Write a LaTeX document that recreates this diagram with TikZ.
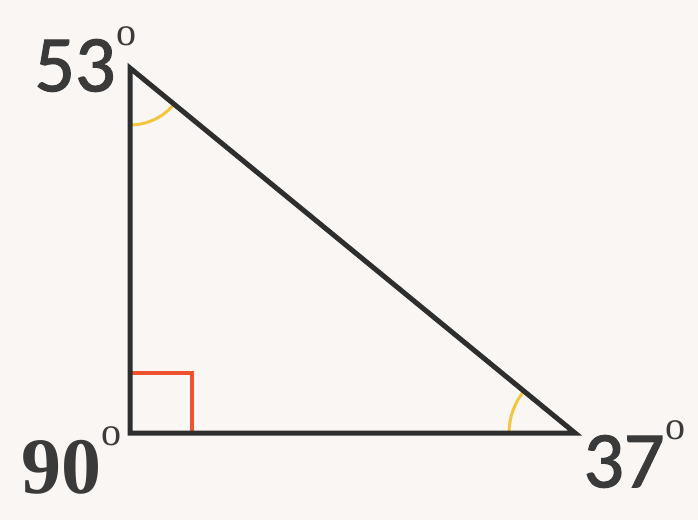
\documentclass[tikz,border=0pt]{standalone}
\usepackage{fontspec}
\newfontfamily\digitfont[FakeBold=1.5]{Carlito}
\newfontfamily\seriffont{Liberation Serif}
\usetikzlibrary{angles,positioning}
\definecolor{paper}{HTML}{F9F6F4}
\definecolor{ink}{HTML}{2E2E2E}
\definecolor{textgray}{HTML}{3A3A3A}
\definecolor{markred}{HTML}{EE5330}
\definecolor{markyellow}{HTML}{F4C63F}
\tikzset{
  side/.style     = {draw=ink, line width=5pt},
  rightangle/.style = {draw=markred, line width=4pt},
  anglemark/.style  = {draw=markyellow, line width=3pt},
  number/.style   = {inner sep=0pt, text=textgray, font=\digitfont\fontsize{80}{80}\selectfont},
  boldnumber/.style = {inner sep=0pt, text=textgray, font=\seriffont\bfseries\fontsize{80}{80}\selectfont},
  degree/.style   = {inner sep=0pt, text=textgray, font=\seriffont\fontsize{40}{40}\selectfont}
}
\begin{document}
\begin{tikzpicture}[x=1pt, y=1pt]
  % background and page size
  \fill[paper] (0,0) rectangle (698,520);
  \useasboundingbox (0,0) rectangle (698,520);

  % corners of the triangle
  \coordinate (top)   at (130,452);
  \coordinate (right) at (130,87);
  \coordinate (far)   at (575,87);

  % mark of the right angle
  \coordinate (sqa) at (130,147);
  \coordinate (sqb) at (192,87);
  \draw[rightangle] (sqa) -| (sqb);

  % marks of the other two angles
  \pic[anglemark, angle radius=57pt] {angle = right--top--far};
  \pic[anglemark, angle radius=66pt] {angle = top--far--right};

  % the triangle
  \draw[side] (top) -- (right) -- (far) -- cycle;

  % labels of the corners
  \node[number] (l53) at (75,454.5) {53};
  \node[degree] (d53) at (126,484) {o};
  \node[boldnumber] (l90) at (61.5,53) {90};
  \node[degree] (d90) at (111,84) {o};
  \node[number] (l37) at (624,58.5) {37};
  \node[degree] (d37) at (675,90) {o};
\end{tikzpicture}
\end{document}
